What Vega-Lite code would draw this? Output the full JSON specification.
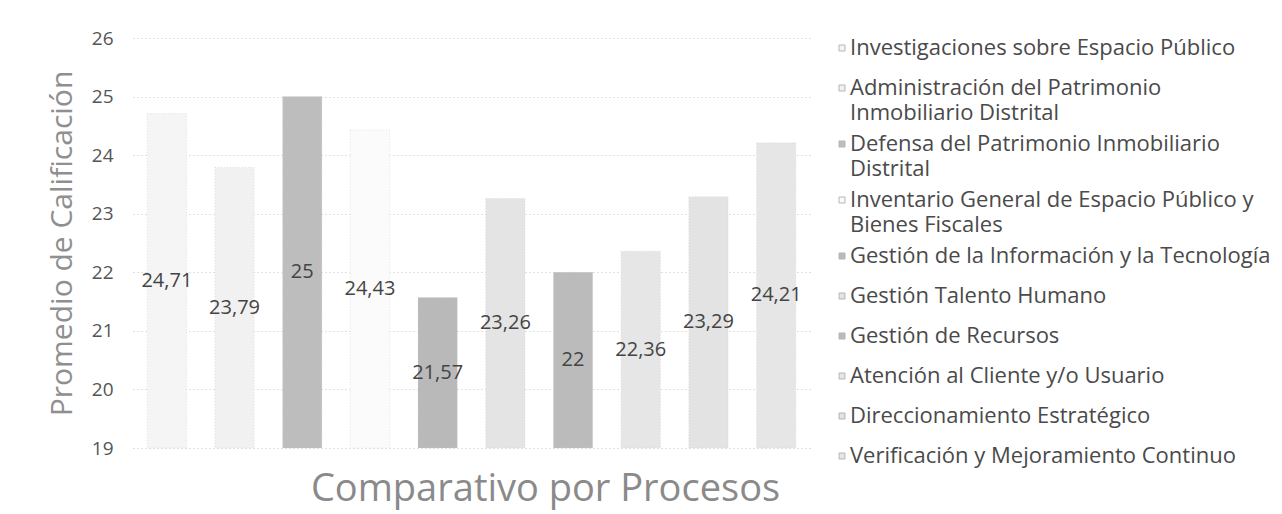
{
  "$schema": "https://vega.github.io/schema/vega-lite/v6.json",
  "width": 677,
  "height": 410,
  "autosize": {"type": "none"},
  "padding": {"left": 133, "top": 38, "right": 472, "bottom": 66},
  "background": "white",
  "config": {
    "locale": {"number": {"decimal": ",", "thousands": ".", "grouping": [3], "currency": ["", " €"]}},
    "view": {"stroke": null},
    "font": "Open Sans"
  },
  "data": {
    "values": [
      {"proceso": "Investigaciones sobre  Espacio Público", "valor": 24.71},
      {"proceso": "Administración del Patrimonio Inmobiliario Distrital", "valor": 23.79},
      {"proceso": "Defensa del Patrimonio Inmobiliario Distrital", "valor": 25},
      {"proceso": "Inventario General de Espacio Público y Bienes Fiscales", "valor": 24.43},
      {"proceso": "Gestión de la Información y la Tecnología", "valor": 21.57},
      {"proceso": "Gestión Talento Humano", "valor": 23.26},
      {"proceso": "Gestión de Recursos", "valor": 22},
      {"proceso": "Atención al Cliente y/o Usuario", "valor": 22.36},
      {"proceso": "Direccionamiento Estratégico", "valor": 23.29},
      {"proceso": "Verificación y Mejoramiento Continuo", "valor": 24.21}
    ]
  },
  "encoding": {
    "x": {
      "field": "proceso",
      "type": "nominal",
      "sort": null,
      "scale": {"paddingInner": 0.42, "paddingOuter": 0.21},
      "axis": {
        "labels": false,
        "ticks": false,
        "domain": false,
        "title": "Comparativo por Procesos",
        "titleFont": "Open Sans",
        "titleFontSize": 38,
        "titleFontWeight": "normal",
        "titleColor": "#8a8a8a",
        "titleX": 412,
        "titleY": 52,
        "titleBaseline": "alphabetic"
      }
    }
  },
  "layer": [
    {
      "mark": {"type": "bar", "stroke": "#d0d0d0", "strokeWidth": 0.6, "strokeDash": [1, 2]},
      "encoding": {
        "y": {
          "field": "valor",
          "type": "quantitative",
          "scale": {"domain": [19, 26], "zero": false, "nice": false},
          "axis": {
            "values": [19, 20, 21, 22, 23, 24, 25, 26],
            "format": "d",
            "grid": true,
            "gridColor": "#c4c4c4",
            "gridDash": [1, 3],
            "gridWidth": 1,
            "domain": false,
            "ticks": false,
            "labelPadding": 20,
            "labelFont": "Open Sans",
            "labelFontSize": 19,
            "labelColor": "#555555",
            "title": "Promedio de Calificación",
            "titleFont": "Open Sans",
            "titleFontSize": 30,
            "titleFontWeight": "normal",
            "titleColor": "#8f8f8f",
            "titlePadding": 14
          }
        },
        "y2": {"datum": 19},
        "color": {
          "field": "proceso",
          "type": "nominal",
          "sort": null,
          "scale": {
            "range": ["#f5f5f5", "#f1f1f1", "#bdbdbd", "#fbfbfb", "#b9b9b9", "#e4e4e4", "#bbbbbb", "#e6e6e6", "#e3e3e3", "#e6e6e6"]
          },
          "legend": {
            "title": null,
            "orient": "none",
            "legendX": 698,
            "legendY": -10,
            "symbolType": "square",
            "symbolSize": 36,
            "symbolStrokeColor": "#b5b5b5",
            "symbolStrokeWidth": 1,
            "labelFont": "Open Sans",
            "labelFontSize": 22,
            "labelColor": "#4a4a4a",
            "labelLimit": 600,
            "labelOffset": -3,
            "clipHeight": 40,
            "rowPadding": 0,
            "encode": {"labels": {"update": {"lineHeight": {"value": 25}}}},
            "labelExpr": "datum.label == 'Administración del Patrimonio Inmobiliario Distrital' ? ['Administración del Patrimonio', 'Inmobiliario Distrital'] : datum.label == 'Defensa del Patrimonio Inmobiliario Distrital' ? ['Defensa del Patrimonio Inmobiliario', 'Distrital'] : datum.label == 'Inventario General de Espacio Público y Bienes Fiscales' ? ['Inventario General de Espacio Público y', 'Bienes Fiscales'] : datum.label"
          }
        }
      }
    },
    {
      "transform": [{"calculate": "(datum.valor + 19) / 2", "as": "medio"}],
      "mark": {"type": "text", "font": "Open Sans", "fontSize": 20, "color": "#444444"},
      "encoding": {
        "y": {"field": "medio", "type": "quantitative"},
        "text": {"field": "valor", "type": "quantitative", "format": ".2~f"}
      }
    }
  ]
}
